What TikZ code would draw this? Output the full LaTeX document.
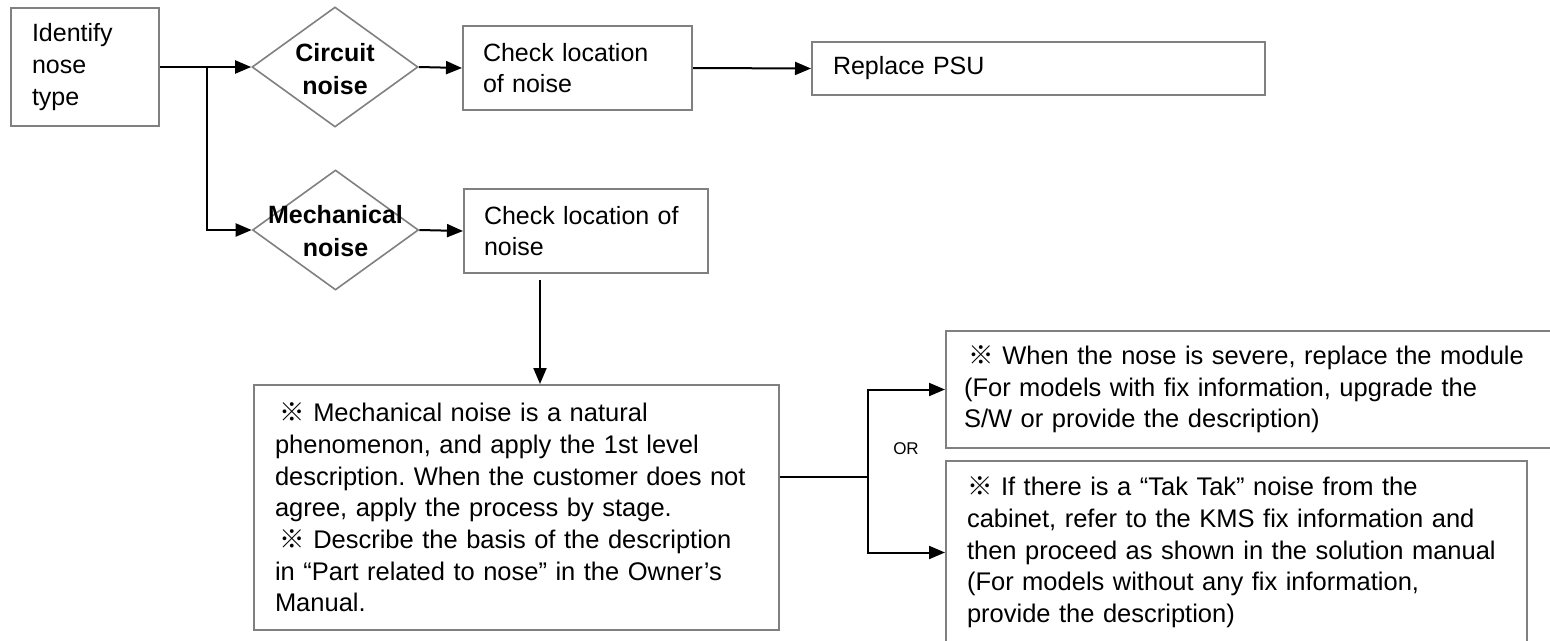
\documentclass[tikz,border=0pt]{standalone}
\usepackage{fontspec}
\setmainfont{Liberation Sans}
\newfontfamily\cjk{Noto Sans CJK KR}
\usetikzlibrary{shapes.geometric,arrows.meta}
\newcommand{\refmark}{{\cjk ※}}
\newcommand{\oneline}[1]{\mbox{#1}}
\definecolor{boxgray}{RGB}{128,128,128}
\frenchspacing
\hfuzz=200pt
\hbadness=10000
\begin{document}
\begin{tikzpicture}[x=1pt,y=-1pt,
  box/.style={draw=boxgray,line width=2pt,rectangle,align=left,inner ysep=0pt,
    font=\fontsize{25}{31.7}\selectfont\frenchspacing},
  bigbox/.style={box,font=\fontsize{25.5}{31.7}\selectfont\frenchspacing},
  dia/.style={diamond,draw=boxgray,line width=1.6pt,minimum width=166pt,minimum height=120pt,inner sep=0pt},
  dlabel/.style={align=center,inner sep=0pt,font=\fontsize{25}{33}\selectfont\bfseries},
  conn/.style={draw=black,line width=2pt},
  arr/.style={conn,-{Triangle[length=16pt,width=13pt]}}]
\useasboundingbox (0,0) rectangle (1550,640);

\node[box,text width=106pt,inner xsep=21pt,minimum height=118pt] (id) at (85,67) {Identify\\nose\\type};
\node[dia] (cd) at (335,67) {};
\node[dlabel] (cdl) at (335,69) {Circuit\\noise};
\node[box,text width=189pt,inner xsep=20pt,minimum height=84pt] (ck1) at (577.5,68) {Check location\\of noise};
\node[box,text width=411pt,inner xsep=21pt,minimum height=53pt] (rp) at (1038.5,68.5) {Replace PSU};

\node[dia] (md) at (335.5,230) {};
\node[dlabel] (mdl) at (335.5,231.5) {Mechanical\\noise};
\node[box,text width=204pt,inner xsep=20pt,minimum height=84pt] (ck2) at (586,231) {\oneline{Check location of}\\noise};

\node[bigbox,text width=483pt,inner xsep=21pt,minimum height=245pt] (big) at (516.5,507.5)
 {\oneline{\,\refmark\ Mechanical noise is a natural}\\
  \oneline{phenomenon, and apply the 1st level}\\
  \oneline{description. When the customer does not}\\
  \oneline{agree, apply the process by stage.}\\
  \oneline{\,\refmark\ Describe the basis of the description}\\
  \oneline{in “Part related to nose” in the Owner’s}\\
  Manual.};

\node[bigbox,text width=573pt,inner xsep=18pt,minimum height=117pt] (tr) at (1250.5,389.5)
 {\oneline{\,\refmark\ When the nose is severe, replace the module}\\
  \oneline{(For models with fix information, upgrade the}\\
  \oneline{S/W or provide the description)}};

\node[bigbox,text width=539pt,inner xsep=21pt,minimum height=183pt] (br) at (1236.5,552.5)
 {\oneline{\refmark\ If there is a “Tak Tak” noise from the}\\
  \oneline{cabinet, refer to the KMS fix information and}\\
  \oneline{then proceed as shown in the solution manual}\\
  \oneline{(For models without any fix information,}\\
  \oneline{provide the description)}};

\node[font=\fontsize{17}{20}\selectfont,inner sep=0pt] (or) at (906,449) {OR};

% connectors
\coordinate (j1) at (207,67);
\draw[arr] (id.east) -- (cd.west);
\draw[arr] (j1) |- (md.west);
\draw[arr] (cd.east) -- (ck1.west);
\draw[arr] (ck1.east) -- (rp.west);
\draw[arr] (md.east) -- (ck2.west);
\coordinate (v1) at (540,280);
\draw[arr] (v1) -- (v1 |- big.north);
\coordinate (j2) at (868,477);
\draw[conn] (big.east |- j2) -- (j2);
\draw[arr] (j2) |- (tr.west);
\draw[arr] (j2) |- (br.west);
\end{tikzpicture}
\end{document}
